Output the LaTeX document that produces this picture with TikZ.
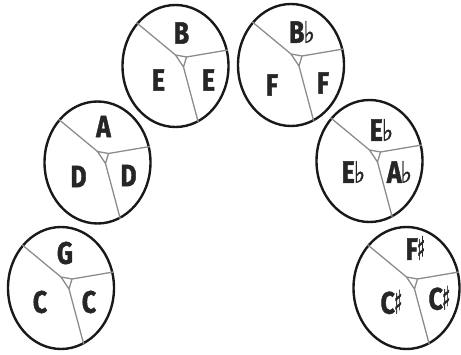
\documentclass[tikz,border=0pt]{standalone}
\usepackage{fontspec}
\setmainfont{Fira Sans}[BoldFeatures={FakeBold=1.6}]
\newfontfamily\symfont{DejaVu Sans}[FakeBold=1.2]
\usetikzlibrary{calc,shapes.geometric}

% condensed bold note name
\newcommand\nm[1]{\scalebox{0.8}[1]{\bfseries #1}}
\newcommand\flt{{\symfont\fontsize{27}{27}\selectfont\hspace{-1pt}\scalebox{0.9}[1.1]{♭}}}
\newcommand\shp{{\symfont\fontsize{27}{27}\selectfont\hspace{-1pt}\scalebox{0.65}[1.2]{♯}}}

\tikzset{
  ring/.style={ellipse, draw=black!90, line width=2.4pt, minimum width=106pt,
    minimum height=122pt, inner sep=0pt},
  spoke/.style={draw=black!45, line width=1.3pt, line join=round},
  note/.style={font=\fontsize{31}{31}\selectfont, inner sep=0pt, text=black!85}
}

% one ring with its three-way division
\newcommand\wheel[3]{%
  \coordinate (#1-a) at ($(#2,#3)+(0,-11)$);
  \coordinate (#1-b) at ($(#2,#3)+(11,-9)$);
  \coordinate (#1-c) at ($(#2,#3)+(8,1)$);
  \node[ring] (#1) at (#2,#3) {};
  \draw[spoke] (#1-a) -- (#1-b) -- (#1-c) -- cycle;
  \draw[spoke] (#1-a) -- (#1.132);
  \draw[spoke] (#1-b) -- (#1.17);
  \draw[spoke] (#1-c) -- (#1.-68);
}

\begin{document}
\begin{tikzpicture}[x=1pt,y=-1pt]
\useasboundingbox (0,0) rectangle (461,355);

\wheel{g}{61}{288}
\wheel{a}{97.5}{162.5}
\wheel{b}{175.5}{66}
\wheel{bf}{291}{65}
\wheel{ef}{369.5}{161}
\wheel{fs}{406.5}{288}

% G ring
\node[note] (g-t) at ($(g)+(4,-35)$) {\nm{G}};
\node[note] (g-l) at ($(g)+(-21,14)$) {\nm{C}};
\node[note] (g-r) at ($(g)+(28,14)$) {\nm{C}};

% A ring
\node[note] (a-t) at ($(a)+(6,-36)$) {\nm{A}};
\node[note] (a-l) at ($(a)+(-19,14)$) {\nm{D}};
\node[note] (a-r) at ($(a)+(31,13)$) {\nm{D}};

% B ring
\node[note] (b-t) at ($(b)+(6,-33)$) {\nm{B}};
\node[note] (b-l) at ($(b)+(-17,14)$) {\nm{E}};
\node[note] (b-r) at ($(b)+(33,14)$) {\nm{E}};

% B flat ring
\node[note] (bf-t) at ($(bf)+(11,-33)$) {\nm{B}\flt};
\node[note] (bf-l) at ($(bf)+(-19,20)$) {\nm{F}};
\node[note] (bf-r) at ($(bf)+(32,18)$) {\nm{F}};

% E flat ring
\node[note] (ef-t) at ($(ef)+(12,-31)$) {\nm{E}\flt};
\node[note] (ef-l) at ($(ef)+(-16,11)$) {\nm{E}\flt};
\node[note] (ef-r) at ($(ef)+(30,11)$) {\nm{A}\flt};

% F sharp ring
\node[note] (fs-t) at ($(fs)+(9,-40)$) {\nm{F}\shp};
\node[note] (fs-l) at ($(fs)+(-15,14)$) {\nm{C}\shp};
\node[note] (fs-r) at ($(fs)+(33,10)$) {\nm{C}\shp};
\end{tikzpicture}
\end{document}
